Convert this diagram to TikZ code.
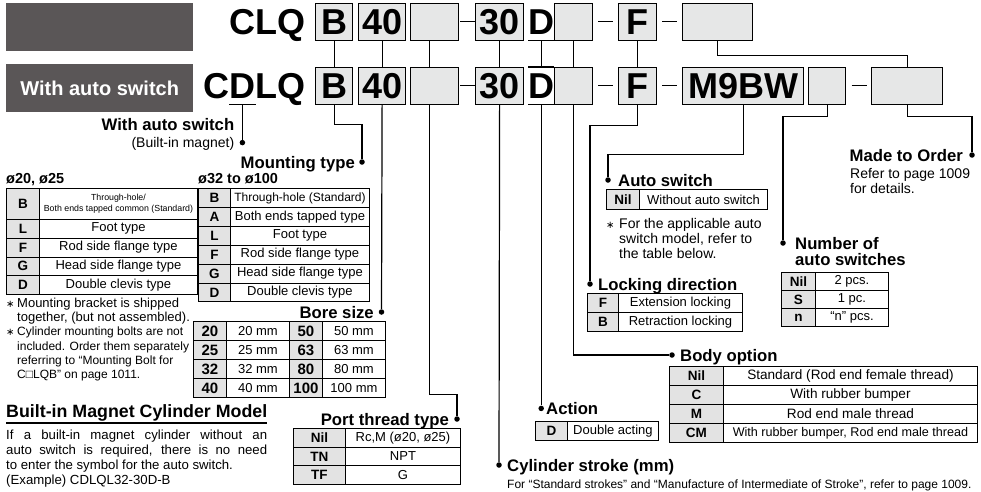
\documentclass[tikz,border=0pt]{standalone}
\usepackage{fontspec}
\setmainfont{Liberation Sans}
\newfontfamily\symfont{DejaVu Sans}
\usetikzlibrary{positioning}

\definecolor{bandgray}{HTML}{5A5657}
\definecolor{codegray}{HTML}{E6E7E7}
\definecolor{keygray}{HTML}{E3E3E3}

\newcommand{\fsz}[1]{\fontsize{#1}{#1}\selectfont}
% table row: name, x, y, key width, value width, height, key, value
\newcommand{\tblrow}[8]{%
  \node[kcell, minimum width=#4, minimum height=#6] (#1k) at (#2,#3) {#7};
  \node[vcell, minimum width=#5, minimum height=#6] (#1v) at (#2+#4,#3) {#8};}

\begin{document}
\begin{tikzpicture}[x=1pt, y=-1pt,
  band/.style={fill=bandgray, anchor=north west, inner sep=0, text=white, font=\bfseries\fsz{20}},
  code/.style={draw, line width=1.2pt, fill=codegray, anchor=north west, inner sep=0, minimum height=37, font=\bfseries\fsz{36}},
  codetxt/.style={inner sep=0, font=\bfseries\fsz{36}},
  hyph/.style={inner sep=0},
  lead/.style={line width=1.2pt},
  dot/.style={circle, fill=black, inner sep=0, minimum size=5.5},
  hd/.style={inner sep=0, font=\bfseries\fsz{16.7}},
  lbl/.style={inner sep=0, font=\fsz{14}},
  txt/.style={inner sep=0, align=left, font=\fontsize{14}{15}\selectfont},
  kcell/.style={draw, line width=0.9pt, fill=keygray, anchor=north west, inner sep=0, font=\bfseries\fsz{13.5}},
  vcell/.style={draw, line width=0.9pt, anchor=north west, inner sep=0, font=\fsz{13}}]
  \useasboundingbox (0,0) rectangle (981,491);

  % title bands
  \node[band, minimum width=187, minimum height=48] (bandTop) at (6,3) {};
  \node[band, minimum width=187, minimum height=48] (bandSw) at (6,64) {With auto switch};

  % model code, top row
  \node[codetxt, anchor=base east] (clq) at (306,34.4) {CLQ};
  \node[code, minimum width=37] (tB) at (315,3) {B};
  \node[code, minimum width=47] (t40) at (358,3) {40};
  \node[code, minimum width=48] (tPort) at (410,3) {};
  \node[hyph] (h1) at (467.5,21.5) {\rule{15pt}{1.6pt}};
  \node[code, minimum width=48] (t30) at (475,3) {30};
  \node[codetxt, anchor=north west, minimum width=23, minimum height=37] (tD) at (528,3) {D};
  \node[code, minimum width=38] (tBody) at (554,3) {};
  \node[hyph] (h2) at (605.5,21.5) {\rule{15pt}{1.6pt}};
  \node[code, minimum width=38] (tF) at (618,3) {F};
  \node[hyph] (h3) at (669.5,21.5) {\rule{15pt}{1.6pt}};
  \node[code, minimum width=70] (tMto) at (682,3) {};

  % model code, with auto switch
  \node[codetxt, anchor=base east] (cdlqLQ) at (306,98.4) {LQ};
  \node[codetxt, anchor=base east] (cdlqD) at (cdlqLQ.base west) {D};
  \node[codetxt, anchor=base east] (cdlqC) at (cdlqD.base west) {C};
  \node[code, minimum width=37] (cB) at (315,67) {B};
  \node[code, minimum width=47] (c40) at (358,67) {40};
  \node[code, minimum width=48] (cPort) at (410,67) {};
  \node[hyph] (h4) at (467.5,85.5) {\rule{15pt}{1.6pt}};
  \node[code, minimum width=48] (c30) at (475,67) {30};
  \node[codetxt, anchor=north west, minimum width=23, minimum height=37] (cD) at (528,67) {D};
  \node[code, minimum width=38] (cBody) at (554,67) {};
  \node[hyph] (h5) at (605.5,85.5) {\rule{15pt}{1.6pt}};
  \node[code, minimum width=38] (cF) at (618,67) {F};
  \node[hyph] (h6) at (669.5,85.5) {\rule{15pt}{1.6pt}};
  \node[code, minimum width=121] (cSw) at (682,67) {M9BW};
  \node[code, minimum width=37] (cNum) at (808,67) {};
  \node[hyph] (h7) at (859,85.5) {\rule{15pt}{1.6pt}};
  \node[code, minimum width=71] (cMto) at (871,67) {};

  % links between the two rows
  \foreach \n in {B,40,30,D,Body,F}
    \draw[lead] (t\n) -- (c\n);
  \draw[lead] ([xshift=-5pt]tPort.south) -- ([xshift=-5pt]cPort.north);
  \draw[lead] (tMto.south) -- ++(0,14) -| (cMto.north);
  \draw[lead] (tD.south west) -- (tD.south east);
  \draw[lead] (cD.north west) -- (cD.north east);
  \draw[lead] (cD.south west) -- (cD.south east);

  % with auto switch
  \node[dot] (dMag) at ([yshift=-44pt]cdlqD.south) {};
  \draw[lead] ([yshift=-6pt]cdlqD.south west) -- ([yshift=-6pt]cdlqD.south east);
  \draw[lead] ([yshift=-6pt]cdlqD.south) -- (dMag);
  \node[lbl, anchor=base east] (magSub) at ([xshift=-8pt,yshift=-5pt]dMag.center) {(Built-in magnet)};
  \node[hd, anchor=base east] (magHead) at ([yshift=17pt]magSub.base east) {With auto switch};

  % mounting type
  \node[dot] (dMount) at (362,162) {};
  \node[hd, anchor=base east] (mountHead) at (355,168) {Mounting type};
  \draw[lead] (cB.south) -- ++(0,19) -| (dMount);
  \node[hd, font=\bfseries\fsz{14.5}, anchor=base west] (boreSmall) at (6,183) {ø20, ø25};
  \node[hd, font=\bfseries\fsz{14.5}, anchor=base west] (boreLarge) at (198,183) {ø32 to ø100};
  \tblrow{ma}{6}{188}{33}{158}{31}{B}{{\fontsize{8.8}{11}\selectfont\begin{tabular}{@{}c@{}}Through-hole/\\Both ends tapped common (Standard)\end{tabular}}}
  \tblrow{mb}{6}{219}{33}{158}{18.75}{L}{Foot type}
  \tblrow{mc}{6}{237.75}{33}{158}{18.75}{F}{Rod side flange type}
  \tblrow{md}{6}{256.5}{33}{158}{18.75}{G}{Head side flange type}
  \tblrow{me}{6}{275.25}{33}{158}{18.75}{D}{Double clevis type}
  \tblrow{na}{198}{188}{32}{139}{18.9}{B}{{\fsz{12}Through-hole (Standard)}}
  \tblrow{nb}{198}{206.9}{32}{139}{18.9}{A}{Both ends tapped type}
  \tblrow{nc}{198}{225.8}{32}{139}{18.9}{L}{Foot type}
  \tblrow{nd}{198}{244.7}{32}{139}{18.9}{F}{Rod side flange type}
  \tblrow{ne}{198}{263.6}{32}{139}{18.9}{G}{Head side flange type}
  \tblrow{nf}{198}{282.5}{32}{139}{18.9}{D}{Double clevis type}
  \node[txt, anchor=north west, font=\fontsize{13}{14}\selectfont] (noteBracket) at (6,297.5)
    {\makebox[11pt][l]{\symfont\fsz{10}∗}Mounting bracket is shipped\\\hspace*{11pt}together, (but not assembled).};
  \node[txt, anchor=north west, font=\fontsize{12}{14.3}\selectfont] (noteBolts) at (6,327)
    {\makebox[11pt][l]{\symfont\fsz{10}∗}Cylinder mounting bolts are not\\\hspace*{11pt}included. Order them separately\\\hspace*{11pt}referring to “Mounting Bolt for\\\hspace*{11pt}C□LQB” on page 1011.};

  % bore size
  \node[dot] (dBore) at (381.5,312) {};
  \node[hd, anchor=base east] (boreHead) at (374,318) {Bore size};
  \draw[lead] (c40.south) -- (dBore);
  \begin{scope}[kcell/.append style={font=\bfseries\fsz{15}}]
  \tblrow{ba}{193}{321}{33}{63}{19}{20}{20 mm}
  \tblrow{bb}{193}{340}{33}{63}{19}{25}{25 mm}
  \tblrow{bc}{193}{359}{33}{63}{19}{32}{32 mm}
  \tblrow{bd}{193}{378}{33}{63}{19}{40}{40 mm}
  \tblrow{be}{289}{321}{33}{63}{19}{50}{50 mm}
  \tblrow{bf}{289}{340}{33}{63}{19}{63}{63 mm}
  \tblrow{bg}{289}{359}{33}{63}{19}{80}{80 mm}
  \tblrow{bh}{289}{378}{33}{63}{19}{100}{100 mm}
  \end{scope}

  % built-in magnet
  \node[hd, font=\bfseries\fsz{17.8}, anchor=base west] (magTitle) at (6,417) {Built-in Magnet Cylinder Model};
  \draw[lead] ([yshift=-6pt]magTitle.base west) -- ([yshift=-6pt]magTitle.base east);
  \node[txt, anchor=north west, font=\fontsize{13.2}{15}\selectfont] (magText) at (6,430)
    {\makebox[261pt][s]{If a built-in magnet cylinder without an}\\\makebox[261pt][s]{auto switch is required, there is no need}\\to enter the symbol for the auto switch.\\(Example) CDLQL32-30D-B};

  % port thread type
  \node[dot] (dPort) at (457,419) {};
  \node[hd, anchor=base east] (portHead) at (449,425) {Port thread type};
  \draw[lead] ([xshift=-5pt]cPort.south) -- ++(0,289) -| (dPort);
  \tblrow{pa}{293}{428}{52}{115}{18.7}{Nil}{Rc,M (ø20, ø25)}
  \tblrow{pb}{293}{446.7}{52}{115}{18.7}{TN}{NPT}
  \tblrow{pc}{293}{465.4}{52}{115}{18.7}{TF}{G}

  % cylinder stroke
  \node[dot] (dStroke) at (499,465) {};
  \node[hd, anchor=base west] (strokeHead) at (507,471) {Cylinder stroke (mm)};
  \node[lbl, font=\fsz{12}, anchor=base west] (strokeNote) at (507,488)
    {For “Standard strokes” and “Manufacture of Intermediate of Stroke”, refer to page 1009.};
  \draw[lead] (c30.south) -- (dStroke);

  % action
  \node[dot] (dAct) at ([yshift=-304pt]cD.south) {};
  \node[hd, anchor=base west] (actHead) at (546,414) {Action};
  \draw[lead] (cD.south) -- (dAct);
  \tblrow{aa}{535}{421}{32}{91}{19}{D}{Double acting}

  % body option
  \node[dot] (dBody) at (672,355) {};
  \node[hd, anchor=base west] (bodyHead) at (680,361) {Body option};
  \draw[lead] (cBody.south) |- (dBody);
  \begin{scope}[vcell/.append style={font=\fsz{13.6}}]
  \tblrow{oa}{669}{366}{54}{254}{19}{Nil}{Standard (Rod end female thread)}
  \tblrow{ob}{669}{385}{54}{254}{19}{C}{With rubber bumper}
  \tblrow{oc}{669}{404}{54}{254}{19}{M}{Rod end male thread}
  \tblrow{od}{669}{423}{54}{254}{19}{CM}{{\fsz{12.6}With rubber bumper, Rod end male thread}}
  \end{scope}

  % locking direction
  \node[dot] (dLock) at (590,284) {};
  \node[hd, anchor=base west] (lockHead) at (598,290) {Locking direction};
  \draw[lead] (cF.south) -- ++(0,20) -| (dLock);
  \tblrow{la}{587}{293}{31}{124}{19}{F}{Extension locking}
  \tblrow{lb}{587}{312}{31}{124}{19}{B}{Retraction locking}

  % auto switch
  \node[dot] (dSw) at (608,180) {};
  \node[hd, anchor=base west] (swHead) at (618,186) {Auto switch};
  \draw[lead] (cSw.south) -- ++(0,49) -| (dSw);
  \tblrow{sa}{606}{189}{33}{128}{20}{Nil}{Without auto switch}
  \node[txt, anchor=north west] (noteSw) at (606,218)
    {\makebox[13pt][l]{\symfont\fsz{10}∗}For the applicable auto\\\hspace*{13pt}switch model, refer to\\\hspace*{13pt}the table below.};

  % number of auto switches
  \node[dot] (dNum) at (783,243) {};
  \node[hd, anchor=base west] (numHead) at (795,249) {Number of};
  \node[hd, anchor=base west] (numHeadB) at (795,265) {auto switches};
  \draw[lead] (cNum.south) -- ++(0,11) -| (dNum);
  \tblrow{ua}{781}{272}{34}{73}{18}{Nil}{2 pcs.}
  \tblrow{ub}{781}{290}{34}{73}{18}{S}{1 pc.}
  \tblrow{uc}{781}{308}{34}{73}{18}{n}{“n” pcs.}

  % made to order
  \node[dot] (dMto) at (972,155) {};
  \node[hd, anchor=base east] (mtoHead) at (963,161) {Made to Order};
  \draw[lead] (cMto.south) -- ++(0,11) -| (dMto);
  \node[txt, anchor=north west] (mtoNote) at (850,168) {Refer to page 1009\\for details.};
\end{tikzpicture}
\end{document}
